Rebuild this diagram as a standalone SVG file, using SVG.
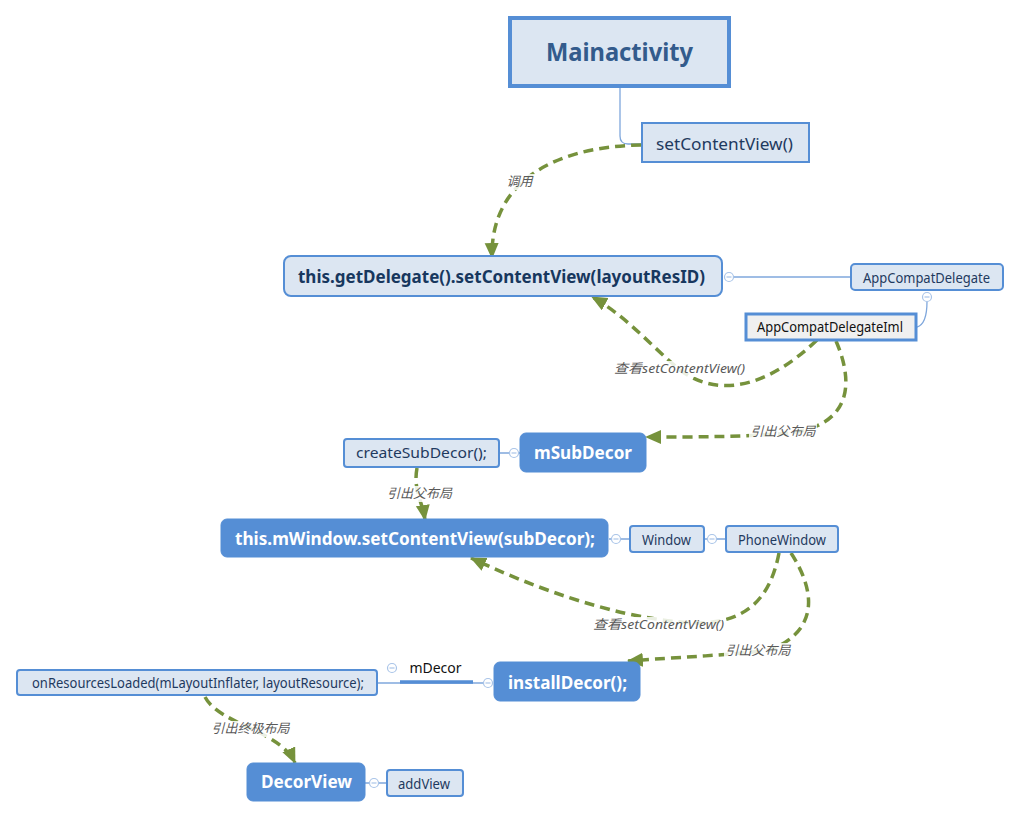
<svg xmlns="http://www.w3.org/2000/svg" width="1020" height="818" viewBox="0 0 1020 818">
<defs>
<marker id="ah" markerUnits="userSpaceOnUse" markerWidth="18" markerHeight="16" refX="15" refY="7" orient="auto">
<path d="M0,0 L16,7 L0,14 Z" fill="#76923c"/>
</marker>
<style>
.lb{fill:#dce6f2;stroke:#558ed5;stroke-width:2}
.bb{fill:#558ed5;stroke:#558ed5;stroke-width:1}
.t{font-family:"Noto Sans","Noto Sans CJK SC",sans-serif;text-anchor:middle}
.dk{fill:#1f3a5f;font-size:14px}
.bw{fill:#ffffff;font-size:18px;font-weight:bold}
.lab{font-family:"Noto Sans","Noto Sans CJK SC",sans-serif;font-size:13px;font-style:italic;fill:#595959;text-anchor:middle}
.lbg{fill:#ffffff;opacity:0.85}
.dash{fill:none;stroke:#76923c;stroke-width:3.5;stroke-dasharray:10 6;marker-end:url(#ah)}
.sl{fill:none;stroke:#7fa7dc;stroke-width:1.3}
.cc{fill:#ffffff;stroke:#a9c4e8;stroke-width:1.2}
.cm{stroke:#a9c4e8;stroke-width:1.2}
</style>
</defs>
<rect x="0" y="0" width="1020" height="818" fill="#ffffff"/>

<g id="connectors">
<path class="sl" d="M620,88 L620,136 Q620,144 628,144 L641,144"/>
<path class="sl" d="M733.5,277 L850,277"/>
<path class="sl" d="M927,301.5 C927,315 924,325 917,327"/>
<path class="sl" d="M499,453 L509.5,453 M518.5,453 L520,453"/>
<path class="sl" d="M609,539 L611.5,539 M620.5,539 L630,539"/>
<path class="sl" d="M704,539 L707.5,539 M716.5,539 L725,539"/>
<path class="sl" d="M377,683 L483.5,683"/>
<path d="M400,682 L473,682" stroke="#558ed5" stroke-width="3.5"/>
<path class="sl" d="M365,783 L369.5,783 M378.5,783 L387,783"/>
<g>
<circle class="cc" cx="729" cy="277" r="4.5"/><path class="cm" d="M726.5,277 L731.5,277"/>
<circle class="cc" cx="927" cy="297" r="4.5"/><path class="cm" d="M924.5,297 L929.5,297"/>
<circle class="cc" cx="514" cy="453" r="4.5"/><path class="cm" d="M511.5,453 L516.5,453"/>
<circle class="cc" cx="616" cy="539" r="4.5"/><path class="cm" d="M613.5,539 L618.5,539"/>
<circle class="cc" cx="712" cy="539" r="4.5"/><path class="cm" d="M709.5,539 L714.5,539"/>
<circle class="cc" cx="488" cy="683" r="4.5"/><path class="cm" d="M485.5,683 L490.5,683"/>
<circle class="cc" cx="392" cy="668" r="4.5"/><path class="cm" d="M389.5,668 L394.5,668"/>
<circle class="cc" cx="374" cy="783" r="4.5"/><path class="cm" d="M371.5,783 L376.5,783"/>
</g>
<text class="t" x="435.5" y="673" font-size="14" fill="#111111">mDecor</text>

<path class="dash" d="M641,145 C570,146 490,172 492,258"/>
<path class="dash" d="M817,340 C770,385 720,400 680,370 C650,345 625,315 592,297"/>
<path class="dash" d="M836,341 C855,385 850,425 790,433 C740,437 700,437 646,437"/>
<path class="dash" d="M417,468 C413,490 422,500 425,520"/>
<path class="dash" d="M779,553 C770,600 745,622 700,623 C640,622 560,600 471,558"/>
<path class="dash" d="M791,553 C815,590 820,630 770,650 C720,656 680,657 628,661"/>
<path class="dash" d="M205,697 C220,725 280,730 295,763"/>

<rect class="lbg" x="505" y="174" width="30" height="16"/>
<text class="lab" x="519.5" y="186">调用</text>
<rect class="lbg" x="612" y="361" width="135" height="16"/>
<text class="lab" x="679.5" y="373" textLength="131" lengthAdjust="spacingAndGlyphs">查看setContentView()</text>
<rect class="lbg" x="749" y="424" width="68" height="16"/>
<text class="lab" x="783" y="436">引出父布局</text>
<rect class="lbg" x="385" y="486" width="69" height="16"/>
<text class="lab" x="419.5" y="498">引出父布局</text>
<rect class="lbg" x="591" y="617" width="135" height="16"/>
<text class="lab" x="658.5" y="629" textLength="131" lengthAdjust="spacingAndGlyphs">查看setContentView()</text>
<rect class="lbg" x="724" y="643" width="68" height="16"/>
<text class="lab" x="758" y="655">引出父布局</text>
<rect class="lbg" x="210" y="721" width="81" height="16"/>
<text class="lab" x="250.5" y="733">引出终极布局</text>
</g>

<g id="mainactivity">
<rect x="510" y="18" width="219" height="68" fill="#dce6f2" stroke="#558ed5" stroke-width="4"/>
<text class="t" x="619.5" y="61" font-size="25" font-weight="bold" fill="#335b8c" textLength="147" lengthAdjust="spacingAndGlyphs">Mainactivity</text>
</g>

<g id="setContentView">
<rect x="642" y="123" width="167" height="39" fill="#dce6f2" stroke="#558ed5" stroke-width="2"/>
<text class="t" x="724.5" y="150" font-size="16" fill="#1f3a5f" textLength="137" lengthAdjust="spacingAndGlyphs">setContentView()</text>
</g>

<g id="getDelegate">
<rect class="lb" x="284" y="256" width="438" height="40" rx="7"/>
<text class="t" x="501.5" y="283" font-size="18" font-weight="bold" fill="#17375e" textLength="407" lengthAdjust="spacingAndGlyphs">this.getDelegate().setContentView(layoutResID)</text>
</g>

<g id="appCompatDelegate">
<rect class="lb" x="851" y="264" width="152" height="26" rx="4"/>
<text class="t dk" x="926.5" y="283" textLength="127" lengthAdjust="spacingAndGlyphs">AppCompatDelegate</text>
</g>

<g id="appCompatDelegateIml">
<rect x="746" y="314" width="170" height="26" fill="#f0f0f0" stroke="#558ed5" stroke-width="3"/>
<text class="t" x="830" y="332" font-size="14" fill="#111111" textLength="146" lengthAdjust="spacingAndGlyphs">AppCompatDelegateIml</text>
</g>

<g id="mSubDecor">
<rect class="bb" x="520" y="433" width="126" height="39" rx="6"/>
<text class="t bw" x="583" y="459" textLength="98" lengthAdjust="spacingAndGlyphs">mSubDecor</text>
</g>

<g id="createSubDecor">
<rect class="lb" x="344" y="439" width="155" height="28" rx="3"/>
<text class="t" x="421.5" y="458" font-size="15" fill="#1f3a5f" textLength="131" lengthAdjust="spacingAndGlyphs">createSubDecor();</text>
</g>

<g id="mWindowSetContentView">
<rect class="bb" x="221" y="519" width="387" height="38" rx="6"/>
<text class="t bw" x="415" y="545" textLength="360" lengthAdjust="spacingAndGlyphs">this.mWindow.setContentView(subDecor);</text>
</g>

<g id="window">
<rect class="lb" x="630" y="526" width="74" height="26" rx="3"/>
<text class="t dk" x="666.5" y="545" textLength="49" lengthAdjust="spacingAndGlyphs">Window</text>
</g>

<g id="phoneWindow">
<rect class="lb" x="726" y="526" width="112" height="26" rx="3"/>
<text class="t dk" x="782" y="545" textLength="88" lengthAdjust="spacingAndGlyphs">PhoneWindow</text>
</g>

<g id="installDecor">
<rect class="bb" x="494" y="662" width="146" height="39" rx="6"/>
<text class="t bw" x="567.5" y="689" textLength="119" lengthAdjust="spacingAndGlyphs">installDecor();</text>
</g>

<g id="onResourcesLoaded">
<rect class="lb" x="17" y="670" width="360" height="25" rx="3"/>
<text class="t dk" x="198" y="688" textLength="332" lengthAdjust="spacingAndGlyphs">onResourcesLoaded(mLayoutInflater, layoutResource);</text>
</g>

<g id="decorView">
<rect class="bb" x="247" y="763" width="118" height="38" rx="6"/>
<text class="t bw" x="306.5" y="788" textLength="91" lengthAdjust="spacingAndGlyphs">DecorView</text>
</g>

<g id="addView">
<rect class="lb" x="387" y="770" width="76" height="26" rx="3"/>
<text class="t dk" x="424" y="789" textLength="52" lengthAdjust="spacingAndGlyphs">addView</text>
</g>
</svg>
